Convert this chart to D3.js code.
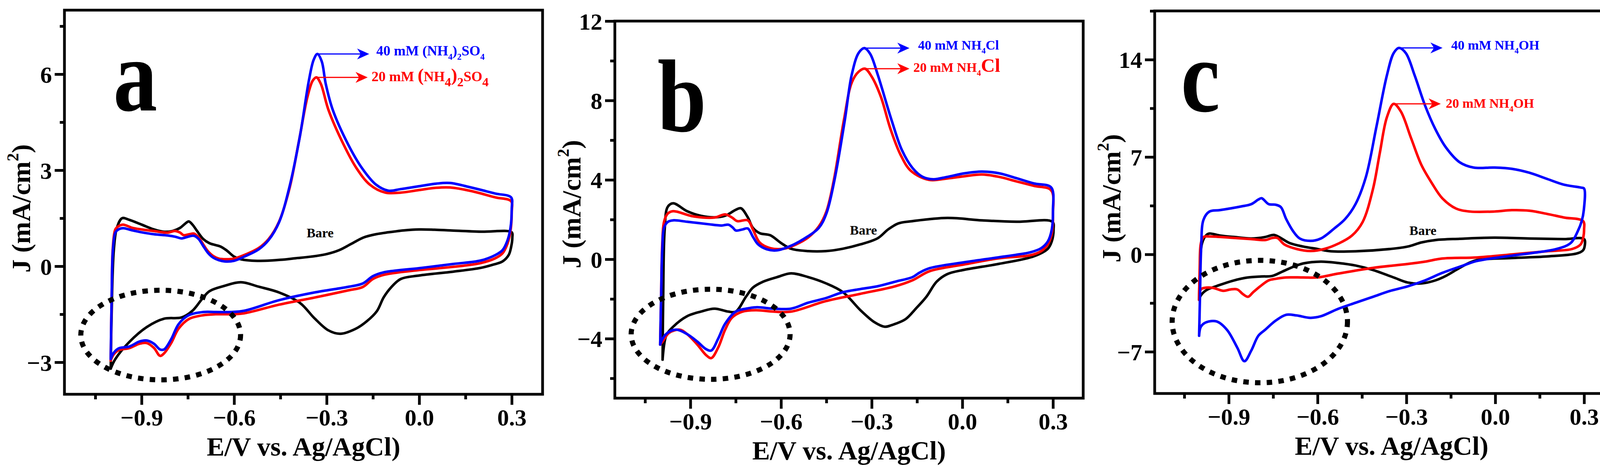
<!DOCTYPE html>
<html>
<head>
<meta charset="utf-8">
<script src="https://cdn.jsdelivr.net/npm/d3@7"></script>
<style>
  body { margin: 0; background: #fff; }
  svg text { font-family: "Liberation Serif", "Times New Roman", serif; font-weight: bold; }
</style>
</head>
<body>
<svg id="fig" width="4197" height="1204"></svg>
<script>
// ---- tick values ----
const xMajor = [-0.9, -0.6, -0.3, 0.0, 0.3];
const xMinor = [-1.05, -0.75, -0.45, -0.15, 0.15];
const xMinorC = [-1.05, -0.75, -0.45, -0.15, 0.15, 0.45];
const aYMajor = [-3, 0, 3, 6];
const aYMinor = [-1.5, 1.5, 4.5, 7.5];
const bYMajor = [-4, 0, 4, 8, 12];
const bYMinor = [-6, -2, 2, 6, 10];
const cYMajor = [-7, 0, 7, 14];
const cYMinor = [-3.5, 3.5, 10.5, 17.5];

// ---- CV loops [E (V), J (mA/cm2)] : anodic scan then cathodic scan ----
// panel a : (NH4)2SO4
const aBare = [[-1.0,-3.2],[-0.997,-1.5],[-0.99,0.5],[-0.98,1.2],[-0.963,1.5],[-0.94,1.45],[-0.9,1.3],[-0.86,1.15],[-0.83,1.08],[-0.8,1.1],[-0.775,1.2],[-0.76,1.32],[-0.747,1.4],[-0.735,1.3],[-0.72,1.1],[-0.7,0.85],[-0.68,0.72],[-0.66,0.66],[-0.645,0.62],[-0.625,0.5],[-0.6,0.3],[-0.58,0.22],[-0.55,0.18],[-0.5,0.17],[-0.45,0.2],[-0.4,0.25],[-0.35,0.3],[-0.3,0.38],[-0.26,0.5],[-0.22,0.7],[-0.18,0.9],[-0.14,1.0],[-0.1,1.06],[-0.05,1.12],[0.0,1.15],[0.05,1.14],[0.1,1.12],[0.2,1.08],[0.3,1.06],
  [0.302,0.9],[0.298,0.6],[0.29,0.35],[0.27,0.15],[0.24,0.05],[0.2,-0.05],[0.11,-0.17],[0.0,-0.29],[-0.06,-0.4],[-0.09,-0.65],[-0.115,-0.97],[-0.137,-1.4],[-0.17,-1.72],[-0.205,-1.95],[-0.256,-2.11],[-0.295,-2.0],[-0.34,-1.62],[-0.386,-1.15],[-0.454,-0.82],[-0.52,-0.64],[-0.578,-0.5],[-0.634,-0.62],[-0.68,-0.78],[-0.702,-1.0],[-0.736,-1.4],[-0.77,-1.6],[-0.827,-1.64],[-0.883,-1.9],[-0.94,-2.37],[-0.985,-2.9],[-1.0,-3.2]];
const aLow = [[-1.0,-2.95],[-0.997,-1.0],[-0.993,0.6],[-0.985,1.15],[-0.975,1.25],[-0.96,1.3],[-0.93,1.2],[-0.9,1.15],[-0.86,1.1],[-0.815,1.05],[-0.793,1.1],[-0.775,1.05],[-0.764,0.97],[-0.745,1.0],[-0.73,1.02],[-0.715,0.9],[-0.7,0.68],[-0.685,0.47],[-0.668,0.32],[-0.65,0.24],[-0.627,0.22],[-0.6,0.24],[-0.567,0.35],[-0.52,0.57],[-0.488,0.85],[-0.454,1.4],[-0.42,2.45],[-0.39,3.9],[-0.362,5.3],[-0.345,5.8],[-0.333,5.9],[-0.319,5.7],[-0.294,4.88],[-0.245,3.8],[-0.203,3.06],[-0.16,2.55],[-0.11,2.3],[-0.06,2.3],[0.0,2.38],[0.055,2.45],[0.1,2.46],[0.168,2.35],[0.247,2.15],[0.298,2.03],
  [0.3,1.7],[0.296,1.1],[0.286,0.7],[0.27,0.4],[0.247,0.25],[0.2,0.1],[0.11,-0.02],[0.0,-0.12],[-0.115,-0.27],[-0.15,-0.4],[-0.183,-0.65],[-0.228,-0.75],[-0.34,-0.98],[-0.454,-1.2],[-0.567,-1.47],[-0.61,-1.5],[-0.66,-1.5],[-0.7,-1.53],[-0.747,-1.65],[-0.78,-1.95],[-0.804,-2.4],[-0.827,-2.72],[-0.84,-2.8],[-0.86,-2.55],[-0.883,-2.4],[-0.906,-2.42],[-0.94,-2.56],[-0.973,-2.62],[-0.99,-2.75],[-1.0,-2.95]];
const aHigh = [[-1.0,-2.9],[-0.997,-1.0],[-0.993,0.5],[-0.985,1.05],[-0.975,1.15],[-0.96,1.19],[-0.93,1.12],[-0.9,1.06],[-0.86,1.0],[-0.815,0.96],[-0.79,0.92],[-0.77,0.87],[-0.75,0.92],[-0.73,0.95],[-0.715,0.85],[-0.7,0.63],[-0.685,0.42],[-0.668,0.27],[-0.65,0.19],[-0.63,0.15],[-0.6,0.17],[-0.567,0.3],[-0.52,0.53],[-0.488,0.82],[-0.454,1.38],[-0.42,2.5],[-0.386,4.1],[-0.358,5.78],[-0.342,6.45],[-0.33,6.63],[-0.316,6.4],[-0.303,5.7],[-0.28,4.88],[-0.23,3.8],[-0.185,3.06],[-0.14,2.55],[-0.1,2.36],[-0.06,2.41],[0.0,2.5],[0.055,2.58],[0.1,2.6],[0.168,2.46],[0.247,2.27],[0.298,2.15],
  [0.3,1.8],[0.296,1.2],[0.286,0.8],[0.27,0.5],[0.247,0.35],[0.2,0.18],[0.11,0.07],[0.0,-0.06],[-0.115,-0.19],[-0.15,-0.31],[-0.183,-0.54],[-0.228,-0.64],[-0.34,-0.82],[-0.454,-1.06],[-0.567,-1.39],[-0.61,-1.43],[-0.66,-1.43],[-0.7,-1.43],[-0.747,-1.53],[-0.78,-1.81],[-0.804,-2.28],[-0.827,-2.6],[-0.84,-2.6],[-0.86,-2.42],[-0.883,-2.32],[-0.906,-2.35],[-0.94,-2.51],[-0.973,-2.56],[-0.99,-2.7],[-1.0,-2.9]];

// panel b : NH4Cl
const bBare = [[-0.992,-5.06],[-0.99,-2.0],[-0.985,1.5],[-0.975,2.64],[-0.957,2.82],[-0.911,2.42],[-0.866,2.19],[-0.82,2.11],[-0.785,2.19],[-0.75,2.49],[-0.733,2.57],[-0.71,2.11],[-0.693,1.58],[-0.67,1.31],[-0.636,1.21],[-0.601,0.83],[-0.567,0.53],[-0.51,0.41],[-0.452,0.41],[-0.395,0.53],[-0.337,0.75],[-0.28,1.06],[-0.245,1.51],[-0.211,1.81],[-0.165,1.92],[-0.05,2.08],[0.065,1.96],[0.18,1.89],[0.298,1.89],
  [0.302,1.5],[0.296,0.9],[0.283,0.53],[0.237,0.15],[0.122,-0.23],[0.007,-0.53],[-0.05,-0.75],[-0.085,-1.13],[-0.119,-1.89],[-0.154,-2.49],[-0.188,-3.02],[-0.234,-3.32],[-0.257,-3.4],[-0.291,-3.17],[-0.337,-2.57],[-0.395,-1.66],[-0.452,-1.21],[-0.51,-0.9],[-0.567,-0.71],[-0.613,-0.9],[-0.659,-1.13],[-0.693,-1.43],[-0.716,-1.89],[-0.75,-2.64],[-0.774,-2.64],[-0.82,-2.49],[-0.866,-2.64],[-0.911,-2.87],[-0.957,-3.4],[-0.98,-3.85],[-0.992,-5.06]];
const bLow = [[-1.0,-4.3],[-0.997,-2.0],[-0.993,0.8],[-0.987,1.9],[-0.975,2.3],[-0.957,2.42],[-0.89,2.16],[-0.82,2.1],[-0.785,2.26],[-0.762,2.1],[-0.745,1.92],[-0.71,1.96],[-0.693,1.5],[-0.67,0.83],[-0.636,0.56],[-0.59,0.53],[-0.55,0.75],[-0.51,1.1],[-0.475,1.65],[-0.45,2.4],[-0.425,4.0],[-0.392,7.0],[-0.366,8.9],[-0.343,9.45],[-0.322,9.6],[-0.3,9.2],[-0.27,8.2],[-0.238,6.57],[-0.205,5.28],[-0.17,4.45],[-0.11,4.0],[-0.05,4.07],[0.007,4.18],[0.065,4.27],[0.122,4.15],[0.18,3.92],[0.237,3.7],[0.294,3.47],
  [0.3,2.3],[0.296,1.3],[0.283,0.75],[0.26,0.4],[0.225,0.2],[0.122,0.05],[0.007,-0.26],[-0.108,-0.6],[-0.165,-1.06],[-0.222,-1.36],[-0.337,-1.74],[-0.452,-2.11],[-0.567,-2.64],[-0.624,-2.64],[-0.682,-2.57],[-0.728,-2.64],[-0.762,-2.94],[-0.785,-3.55],[-0.808,-4.45],[-0.831,-4.98],[-0.848,-4.83],[-0.877,-4.3],[-0.911,-3.77],[-0.934,-3.55],[-0.97,-3.7],[-0.992,-4.15],[-1.0,-4.3]];
const bHigh = [[-1.0,-4.3],[-0.997,-2.0],[-0.993,0.5],[-0.987,1.6],[-0.975,1.88],[-0.957,1.96],[-0.911,1.89],[-0.843,1.77],[-0.797,1.7],[-0.774,1.74],[-0.76,1.6],[-0.75,1.45],[-0.728,1.5],[-0.71,1.55],[-0.693,1.13],[-0.676,0.75],[-0.647,0.5],[-0.613,0.45],[-0.567,0.68],[-0.521,1.06],[-0.475,1.58],[-0.45,2.3],[-0.423,4.0],[-0.389,7.0],[-0.366,9.3],[-0.343,10.4],[-0.324,10.64],[-0.305,10.35],[-0.28,9.3],[-0.234,7.0],[-0.2,5.5],[-0.165,4.6],[-0.131,4.15],[-0.096,4.03],[-0.05,4.15],[0.007,4.33],[0.065,4.42],[0.122,4.33],[0.18,4.08],[0.237,3.82],[0.294,3.62],
  [0.3,2.5],[0.296,1.5],[0.283,0.9],[0.26,0.55],[0.225,0.35],[0.18,0.23],[0.122,0.1],[0.007,-0.15],[-0.108,-0.45],[-0.142,-0.68],[-0.165,-0.9],[-0.222,-1.13],[-0.28,-1.36],[-0.337,-1.5],[-0.395,-1.66],[-0.452,-1.96],[-0.51,-2.19],[-0.567,-2.49],[-0.624,-2.49],[-0.682,-2.42],[-0.716,-2.49],[-0.75,-2.64],[-0.785,-3.25],[-0.808,-4.0],[-0.831,-4.6],[-0.848,-4.53],[-0.877,-4.15],[-0.911,-3.77],[-0.946,-3.55],[-0.975,-3.7],[-0.992,-4.0],[-1.0,-4.3]];

// panel c : NH4OH
const cBare = [[-1.0,-3.27],[-0.998,-1.5],[-0.99,0.8],[-0.975,1.4],[-0.965,1.5],[-0.929,1.35],[-0.882,1.25],[-0.824,1.14],[-0.777,1.25],[-0.748,1.4],[-0.73,1.25],[-0.695,0.82],[-0.648,0.56],[-0.601,0.39],[-0.554,0.22],[-0.472,0.22],[-0.354,0.39],[-0.296,0.56],[-0.249,0.86],[-0.202,1.03],[-0.12,1.12],[-0.003,1.2],[0.115,1.14],[0.232,1.1],[0.3,1.1],
  [0.302,0.6],[0.296,0.28],[0.275,0.06],[0.173,-0.15],[0.056,-0.26],[-0.061,-0.41],[-0.096,-0.69],[-0.132,-1.12],[-0.167,-1.55],[-0.202,-1.87],[-0.249,-2.09],[-0.296,-2.02],[-0.343,-1.66],[-0.413,-1.12],[-0.472,-0.8],[-0.53,-0.62],[-0.589,-0.52],[-0.648,-0.65],[-0.683,-0.9],[-0.718,-1.23],[-0.753,-1.55],[-0.789,-1.59],[-0.835,-1.66],[-0.882,-1.87],[-0.929,-2.19],[-0.976,-2.58],[-0.994,-2.95],[-1.0,-3.27]];
const cLow = [[-1.0,-3.27],[-0.998,-1.0],[-0.994,0.8],[-0.985,1.25],[-0.965,1.29],[-0.882,1.18],[-0.824,1.1],[-0.777,1.03],[-0.753,1.18],[-0.736,1.18],[-0.712,0.71],[-0.671,0.39],[-0.624,0.24],[-0.577,0.39],[-0.53,0.77],[-0.484,1.35],[-0.448,2.32],[-0.413,4.69],[-0.39,7.27],[-0.366,9.85],[-0.343,10.82],[-0.319,10.28],[-0.284,8.34],[-0.249,6.41],[-0.214,5.12],[-0.179,4.04],[-0.132,3.29],[-0.085,3.08],[-0.003,3.08],[0.056,3.18],[0.115,3.14],[0.173,2.92],[0.232,2.65],[0.297,2.39],
  [0.3,1.8],[0.297,1.2],[0.288,0.71],[0.26,0.39],[0.173,0.22],[0.056,0.0],[-0.061,-0.22],[-0.179,-0.3],[-0.237,-0.52],[-0.296,-0.69],[-0.413,-0.97],[-0.53,-1.38],[-0.601,-1.66],[-0.648,-1.66],[-0.706,-1.66],[-0.742,-1.76],[-0.765,-1.87],[-0.794,-2.3],[-0.818,-2.73],[-0.835,-3.05],[-0.853,-2.84],[-0.871,-2.52],[-0.894,-2.52],[-0.918,-2.62],[-0.953,-2.41],[-0.982,-2.41],[-0.994,-2.52],[-1.0,-3.27]];
const cHigh = [[-1.0,-5.85],[-0.997,-3.0],[-0.993,0.5],[-0.985,2.5],[-0.965,3.08],[-0.93,3.18],[-0.859,3.44],[-0.824,3.61],[-0.8,3.94],[-0.789,4.04],[-0.765,3.61],[-0.742,3.57],[-0.724,3.4],[-0.706,2.54],[-0.683,1.68],[-0.66,1.14],[-0.624,0.97],[-0.589,1.14],[-0.542,1.89],[-0.507,2.54],[-0.472,3.61],[-0.437,5.55],[-0.401,9.2],[-0.366,12.86],[-0.343,14.47],[-0.325,14.84],[-0.302,14.47],[-0.272,12.86],[-0.237,10.7],[-0.202,8.99],[-0.167,7.7],[-0.12,6.62],[-0.073,6.24],[-0.003,6.24],[0.056,6.15],[0.115,5.87],[0.173,5.44],[0.232,5.01],[0.29,4.8],[0.3,4.73],
  [0.299,3.18],[0.292,2.4],[0.279,1.68],[0.255,0.82],[0.208,0.39],[0.15,0.17],[0.056,-0.09],[-0.061,-0.47],[-0.108,-0.8],[-0.179,-1.33],[-0.237,-1.87],[-0.296,-2.3],[-0.354,-2.62],[-0.413,-3.05],[-0.472,-3.48],[-0.53,-3.91],[-0.589,-4.45],[-0.624,-4.56],[-0.671,-4.39],[-0.706,-4.34],[-0.742,-4.77],[-0.777,-5.42],[-0.8,-5.85],[-0.824,-6.92],[-0.847,-7.68],[-0.871,-6.71],[-0.906,-5.42],[-0.941,-4.82],[-0.976,-4.88],[-0.994,-5.2],[-1.0,-5.85]];

// ---- label texts ----
const aHighText = [{t:"40 mM "},{t:"(NH"},{t:"4",sub:1},{t:")"},{t:"2",sub:1},{t:"SO"},{t:"4",sub:1}];
const aLowText = [{t:"20 mM "},{t:"(",scale:1.3},{t:"NH"},{t:"4",sub:1},{t:")",scale:1.3},{t:"2",sub:1},{t:"SO"},{t:"4",sub:1}];
const bHighText = [{t:"40 mM NH"},{t:"4",sub:1},{t:"Cl"}];
const bLowText = [{t:"20 mM NH"},{t:"4",sub:1},{t:"Cl",scale:1.45}];
const cHighText = [{t:"40 mM NH"},{t:"4",sub:1},{t:"OH"}];
const cLowText = [{t:"20 mM NH"},{t:"4",sub:1},{t:"OH"}];

const BLUE = "#0000ff", RED = "#ff0000";

const panels = [
  { letter: "a", left: 165, right: 1389, top: 26, bottom: 1010,
    xDomain: [-1.15, 0.4], yDomain: [-4, 8], yMajor: aYMajor, yMinor: aYMinor, xMinor: xMinor,
    curves: [aBare, aLow, aHigh], letterAt: [125, 257], yTitleShift: 16,
    bare: [-0.365, 0.9], ell: [-0.838, -2.15, 0.259, 1.4],
    labels: [
      { parts: aHighText, color: BLUE, peak: [-0.33, 6.63], end: -0.162, gap: 18, dy: 4, size: 36, sub: 0.62, shift: 0.3 },
      { parts: aLowText, color: RED, peak: [-0.333, 5.9], end: -0.167, gap: 10, dy: 10, size: 36, sub: 0.9, shift: 0.35 }
    ] },
  { letter: "b", left: 1574, right: 2773, top: 54, bottom: 1020,
    xDomain: [-1.15, 0.4], yDomain: [-7, 12], yMajor: bYMajor, yMinor: bYMinor, xMinor: xMinor,
    curves: [bBare, bLow, bHigh], letterAt: [109, 282], yTitleShift: -14,
    bare: [-0.372, 1.25], ell: [-0.833, -3.78, 0.263, 2.27],
    labels: [
      { parts: bHighText, color: BLUE, peak: [-0.324, 10.64], end: -0.175, gap: 22, dy: 4, size: 34, sub: 0.62, shift: 0.3 },
      { parts: bLowText, color: RED, peak: [-0.322, 9.6], end: -0.175, gap: 10, dy: 8, size: 34, sub: 0.62, shift: 0.3 }
    ] },
  { letter: "c", left: 2956, right: 4169, top: 28, bottom: 1008,
    xDomain: [-1.15, 0.45], yDomain: [-10, 17.5], yMajor: cYMajor, yMinor: cYMinor, xMinor: xMinorC,
    curves: [cBare, cLow, cHigh], letterAt: [67, 257], yTitleShift: -10,
    bare: [-0.29, 1.38], ell: [-0.795, -4.83, 0.296, 4.4],
    labels: [
      { parts: cHighText, color: BLUE, peak: [-0.325, 14.84], end: -0.178, gap: 22, dy: 4, size: 34, sub: 0.62, shift: 0.3 },
      { parts: cLowText, color: RED, peak: [-0.343, 10.82], end: -0.184, gap: 13, dy: 10, size: 34, sub: 0.62, shift: 0.3 }
    ] }
];
const curveColors = ["#000000", RED, BLUE];

const svg = d3.select("#fig");

function addLabel(g, x, y, parts, color, size, subScale, shift) {
  const t = g.append("text").attr("x", x).attr("y", y).attr("fill", color).attr("font-size", size);
  let cur = 0;
  parts.forEach(p => {
    const fs = p.sub ? size * subScale : size * (p.scale || 1);
    const target = p.sub ? size * shift : 0;
    t.append("tspan").attr("font-size", fs).attr("dy", target - cur).text(p.t);
    cur = target;
  });
}

function drawPanel(p) {
  const x = d3.scaleLinear().domain(p.xDomain).range([p.left, p.right]);
  const y = d3.scaleLinear().domain(p.yDomain).range([p.bottom, p.top]);
  const g = svg.append("g");

  // curves
  const line = d3.line().x(d => x(d[0])).y(d => y(d[1])).curve(d3.curveCatmullRom.alpha(0.5));
  p.curves.forEach((c, i) => {
    g.append("path").datum(c).attr("d", line)
      .attr("fill", "none").attr("stroke", curveColors[i])
      .attr("stroke-width", 6.5).attr("stroke-linejoin", "round").attr("stroke-linecap", "round");
  });

  // dotted ellipse
  const [ecx, ecy, erx, ery] = p.ell;
  g.append("ellipse")
    .attr("cx", x(ecx)).attr("cy", y(ecy))
    .attr("rx", x(ecx + erx) - x(ecx)).attr("ry", y(ecy - ery) - y(ecy))
    .attr("fill", "none").attr("stroke", "#000").attr("stroke-width", 13)
    .attr("stroke-dasharray", "14 16");

  // arrows + labels
  p.labels.forEach(l => {
    const yy = y(l.peak[1]);
    const x0 = x(l.peak[0]), x1 = x(l.end);
    g.append("line").attr("x1", x0).attr("x2", x1 - 20).attr("y1", yy).attr("y2", yy)
      .attr("stroke", l.color).attr("stroke-width", 3);
    g.append("path")
      .attr("d", `M${x1},${yy} L${x1 - 31},${yy - 14} L${x1 - 22},${yy} L${x1 - 31},${yy + 14} Z`)
      .attr("fill", l.color);
    addLabel(g, x1 + l.gap, yy + l.dy, l.parts, l.color, l.size, l.sub, l.shift);
  });

  // "Bare" label
  g.append("text").attr("x", x(p.bare[0])).attr("y", y(p.bare[1]))
    .attr("font-size", 34).attr("fill", "#000").text("Bare");

  // axes
  const gx = g.append("g").attr("transform", `translate(0,${p.bottom})`)
    .call(d3.axisBottom(x).tickValues(xMajor).tickSize(27).tickFormat(d3.format(".1f")));
  gx.select(".domain").remove();
  gx.selectAll("line").attr("stroke-width", 7);
  gx.selectAll("text").attr("y", 80).attr("dy", null).attr("font-size", 60).attr("fill", "#000");
  const gxm = g.append("g").attr("transform", `translate(0,${p.bottom})`)
    .call(d3.axisBottom(x).tickValues(p.xMinor).tickSize(13).tickFormat(""));
  gxm.select(".domain").remove();
  gxm.selectAll("line").attr("stroke-width", 7);

  const gy = g.append("g").attr("transform", `translate(${p.left},0)`)
    .call(d3.axisLeft(y).tickValues(p.yMajor).tickSize(25).tickFormat(d3.format("d")));
  gy.select(".domain").remove();
  gy.selectAll("line").attr("stroke-width", 7);
  gy.selectAll("text").attr("x", -32).attr("dy", "0.35em").attr("font-size", 60).attr("fill", "#000");
  const gym = g.append("g").attr("transform", `translate(${p.left},0)`)
    .call(d3.axisLeft(y).tickValues(p.yMinor).tickSize(12).tickFormat(""));
  gym.select(".domain").remove();
  gym.selectAll("line").attr("stroke-width", 7);

  // frame
  g.append("rect").attr("x", p.left).attr("y", p.top)
    .attr("width", p.right - p.left).attr("height", p.bottom - p.top)
    .attr("fill", "none").attr("stroke", "#000").attr("stroke-width", 7);

  // axis titles
  g.append("text").attr("x", (p.left + p.right) / 2).attr("y", p.bottom + 157)
    .attr("text-anchor", "middle").attr("font-size", 68).text("E/V vs. Ag/AgCl)");
  const yt = g.append("text")
    .attr("transform", `translate(${p.left - 88},${(p.top + p.bottom) / 2 + p.yTitleShift}) rotate(-90)`)
    .attr("text-anchor", "middle").attr("font-size", 68);
  yt.append("tspan").text("J (mA/cm");
  yt.append("tspan").attr("font-size", 42).attr("dy", -30).text("2");
  yt.append("tspan").attr("dy", 30).text(")");

  // panel letter
  g.append("text")
    .attr("transform", `translate(${p.left + p.letterAt[0]},${p.top + p.letterAt[1]}) scale(0.85,1)`)
    .attr("font-size", 265).text(p.letter);
}

panels.forEach(drawPanel);
</script>
</body>
</html>
